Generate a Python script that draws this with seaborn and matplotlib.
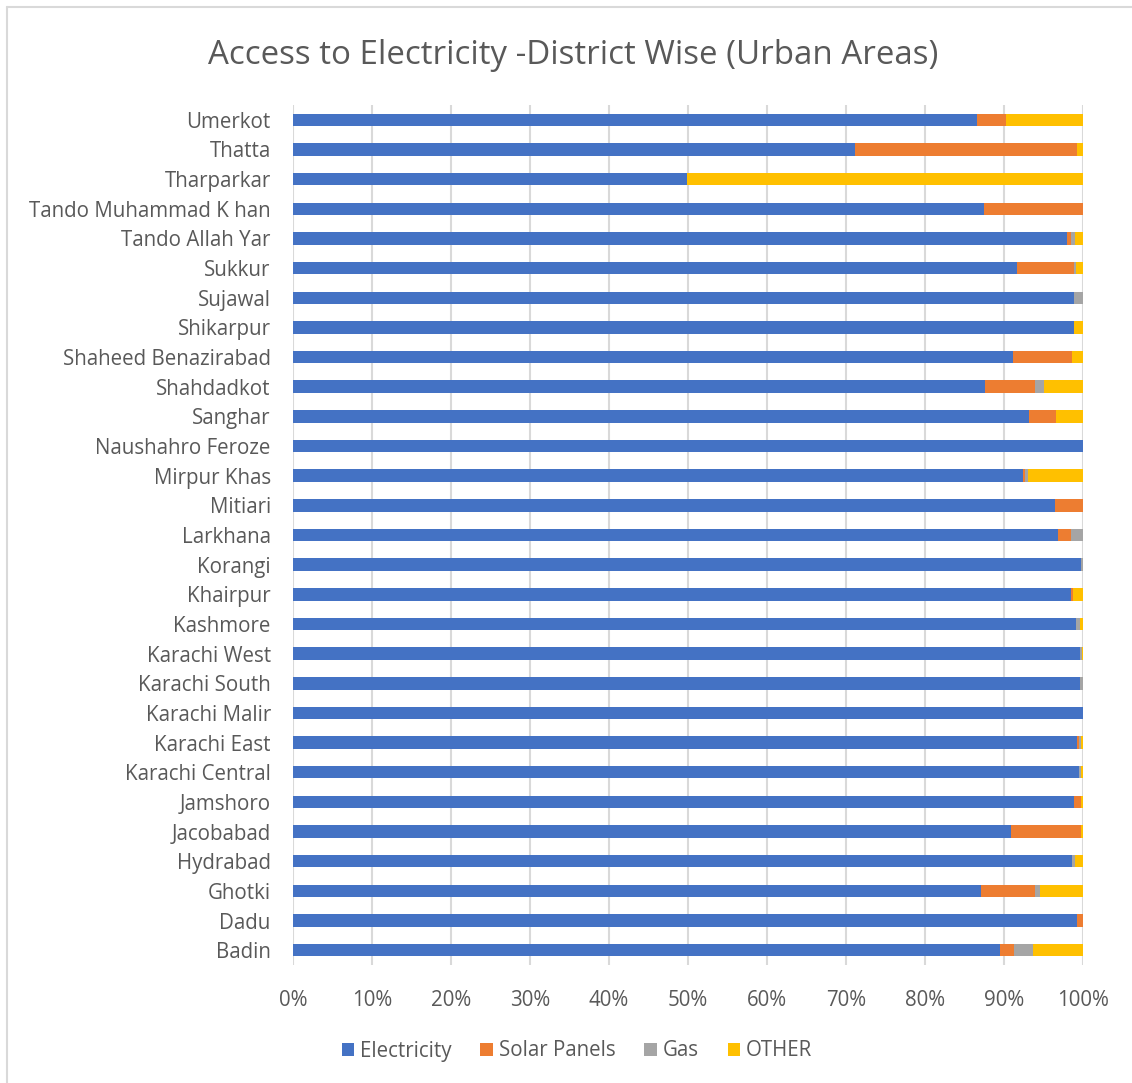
import matplotlib
matplotlib.use("Agg")
import matplotlib.pyplot as plt
from matplotlib.patches import Patch
from matplotlib.lines import Line2D
import seaborn as sns
import pandas as pd
import numpy as np

districts = [
    "Umerkot", "Thatta", "Tharparkar", "Tando Muhammad K han", "Tando Allah Yar",
    "Sukkur", "Sujawal", "Shikarpur", "Shaheed Benazirabad", "Shahdadkot",
    "Sanghar", "Naushahro Feroze", "Mirpur Khas", "Mitiari", "Larkhana",
    "Korangi", "Khairpur", "Kashmore", "Karachi West", "Karachi South",
    "Karachi Malir", "Karachi East", "Karachi Central", "Jamshoro", "Jacobabad",
    "Hydrabad", "Ghotki", "Dadu", "Badin",
]

electricity = [86.6, 71.2, 49.9, 87.5, 98.0, 91.6, 98.8, 98.8, 91.2, 87.6,
               93.2, 100.0, 92.4, 96.4, 96.8, 99.8, 98.5, 99.1, 99.6, 99.6,
               100.0, 99.2, 99.5, 98.9, 90.9, 98.6, 87.1, 99.2, 89.5]
solar = [3.6, 28.0, 0.0, 12.5, 0.5, 7.2, 0.0, 0.0, 7.4, 6.3,
         3.4, 0.0, 0.3, 3.6, 1.7, 0.0, 0.2, 0.0, 0.0, 0.0,
         0.0, 0.3, 0.0, 0.9, 8.8, 0.0, 6.8, 0.8, 1.8]
gas = [0.0, 0.0, 0.0, 0.0, 0.5, 0.3, 1.2, 0.0, 0.0, 1.1,
       0.0, 0.0, 0.3, 0.0, 1.5, 0.2, 0.0, 0.5, 0.3, 0.4,
       0.0, 0.3, 0.3, 0.0, 0.0, 0.4, 0.6, 0.0, 2.4]
other = [9.8, 0.8, 50.1, 0.0, 1.0, 0.9, 0.0, 1.2, 1.4, 5.0,
         3.4, 0.0, 7.0, 0.0, 0.0, 0.0, 1.3, 0.4, 0.1, 0.0,
         0.0, 0.2, 0.2, 0.2, 0.3, 1.0, 5.5, 0.0, 6.3]

series_names = ["Electricity", "Solar Panels", "Gas", "OTHER"]
series_colors = ["#4472C4", "#ED7D31", "#A5A5A5", "#FFC000"]

df = pd.DataFrame({
    "District": districts,
    "Electricity": electricity,
    "Solar Panels": solar,
    "Gas": gas,
    "OTHER": other,
})
# normalise each district to 100% and build cumulative ends for stacking
totals = df[series_names].sum(axis=1)
for s in series_names:
    df[s] = df[s] / totals * 100
cum = df[series_names].cumsum(axis=1)

sns.set_theme(style="white")
plt.rcParams["font.family"] = ["Open Sans", "DejaVu Sans"]
text_color = "#595959"

fig = plt.figure(figsize=(11.32, 10.83), dpi=100)
ax = fig.add_axes([293 / 1132, 1 - 965 / 1083, 790 / 1132, 860 / 1083])

# draw from the outermost cumulative segment inward so each layer shows its own slice
for name, color in reversed(list(zip(series_names, series_colors))):
    sns.barplot(x=cum[name], y=df["District"], order=districts, orient="h",
                color=color, width=0.42, ax=ax, saturation=1,
                edgecolor="none", linewidth=0, zorder=3)

ax.set_xlim(0, 100)
ax.set_xticks(np.arange(0, 101, 10))
ax.set_xticklabels([f"{v}%" for v in range(0, 101, 10)])
ax.xaxis.grid(True, color="#D9D9D9", linewidth=1.5, zorder=0)
ax.yaxis.grid(False)
ax.set_axisbelow(True)
for sp in ax.spines.values():
    sp.set_visible(False)
ax.set_xlabel("")
ax.set_ylabel("")
ax.tick_params(axis="y", length=0, pad=16, labelsize=14.8, labelcolor=text_color)
ax.tick_params(axis="x", length=0, pad=18, labelsize=14.8, labelcolor=text_color)

fig.text(573 / 1132, 1 - 55 / 1083, "Access to Electricity -District Wise (Urban Areas)",
         ha="center", va="center", fontsize=23.8, color=text_color)

handles = [Patch(facecolor=c, edgecolor="none", label=n)
           for n, c in zip(series_names, series_colors)]
fig.legend(handles=handles, loc="center", bbox_to_anchor=(577 / 1132, 1 - 1051 / 1083),
           ncol=4, frameon=False, fontsize=14.8, labelcolor=text_color,
           handlelength=0.6, handleheight=0.6, handletextpad=0.3, columnspacing=1.4)

# chart frame
fig.add_artist(Line2D([7 / 1132, 7 / 1132], [0, 1 - 7 / 1083], color="#D9D9D9", linewidth=1.5))
fig.add_artist(Line2D([7 / 1132, 1], [1 - 7 / 1083, 1 - 7 / 1083], color="#D9D9D9", linewidth=1.5))

fig.savefig("out.png", dpi=100)
